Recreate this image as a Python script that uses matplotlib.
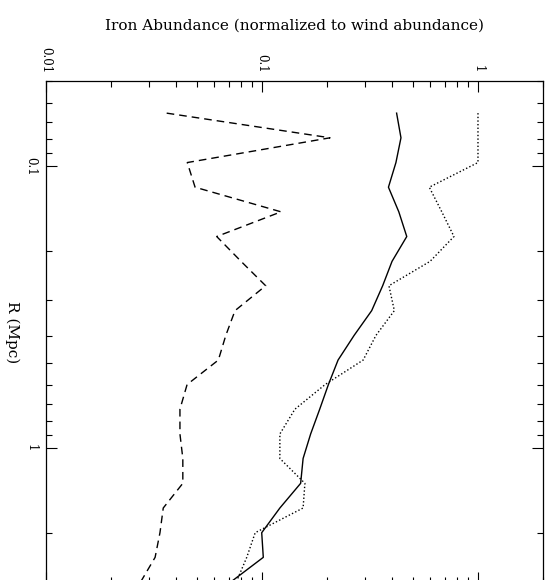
import matplotlib
matplotlib.use('Agg')
import matplotlib.pyplot as plt
from matplotlib.ticker import NullFormatter, LogLocator

plt.rcParams['font.family'] = 'DejaVu Serif'

# Radial bins (Mpc)
radius = [0.065, 0.0795, 0.0973, 0.119, 0.1455, 0.178, 0.218, 0.266, 0.326, 0.399,
          0.488, 0.596, 0.729, 0.892, 1.09, 1.335, 1.633, 1.998, 2.443, 2.99]

# Iron abundance (normalized to wind abundance) for each curve
fe_solid = [0.42, 0.44, 0.417, 0.385, 0.43, 0.468, 0.40, 0.362, 0.322, 0.267,
            0.225, 0.203, 0.185, 0.168, 0.155, 0.151, 0.121, 0.0997, 0.1014, 0.0716]
fe_dotted = [1.0, 1.0, 1.0, 0.595, 0.68, 0.774, 0.60, 0.387, 0.41, 0.337,
             0.294, 0.196, 0.142, 0.121, 0.121, 0.158, 0.155, 0.093, 0.085, 0.076]
fe_dashed = [0.0362, 0.2065, 0.0451, 0.049, 0.1225, 0.0617, 0.080, 0.104, 0.075, 0.068,
             0.0628, 0.045, 0.0417, 0.0417, 0.043, 0.043, 0.0349, 0.0337, 0.032, 0.0274]

x_ticks = [0.01, 0.1, 1]
x_ticklabels = ['0.01', '0.1', '1']
y_ticks = [0.1, 1]
y_ticklabels = ['0.1', '1']

fig = plt.figure(figsize=(5.5, 5.8), dpi=100)
ax = fig.add_axes([46 / 550, 1 - 582.5 / 580, 497 / 550, 501.5 / 580])

ax.plot(fe_solid, radius, color='black', lw=1.0, ls='-')
ax.plot(fe_dotted, radius, color='black', lw=1.0, ls=(0, (1, 1.6)))
ax.plot(fe_dashed, radius, color='black', lw=1.0, ls=(0, (5.5, 3.6)))

ax.set_xscale('log')
ax.set_yscale('log')
ax.set_xlim(0.01, 2)
ax.set_ylim(3.0, 0.05)  # R increases downward

ax.xaxis.tick_top()
ax.xaxis.set_label_position('top')
ax.set_xticks(x_ticks)
ax.set_xticklabels(x_ticklabels, rotation=-90, fontsize=8.5)
ax.set_yticks(y_ticks)
ax.set_yticklabels(y_ticklabels, rotation=-90, fontsize=8.5, va='center')
for axis in (ax.xaxis, ax.yaxis):
    axis.set_minor_locator(LogLocator(base=10, subs=range(2, 10)))
    axis.set_minor_formatter(NullFormatter())

ax.tick_params(which='both', direction='in', top=True, bottom=True,
               left=True, right=True, width=0.8, colors='black')
ax.tick_params(which='major', length=8, pad=6)
ax.tick_params(which='minor', length=4)
for sp in ax.spines.values():
    sp.set_linewidth(0.9)

ax.set_xlabel('Iron Abundance (normalized to wind abundance)', fontsize=11, labelpad=12)
ax.set_ylabel('R (Mpc)', fontsize=11, rotation=-90, labelpad=14)

fig.savefig('out.png', dpi=100)
